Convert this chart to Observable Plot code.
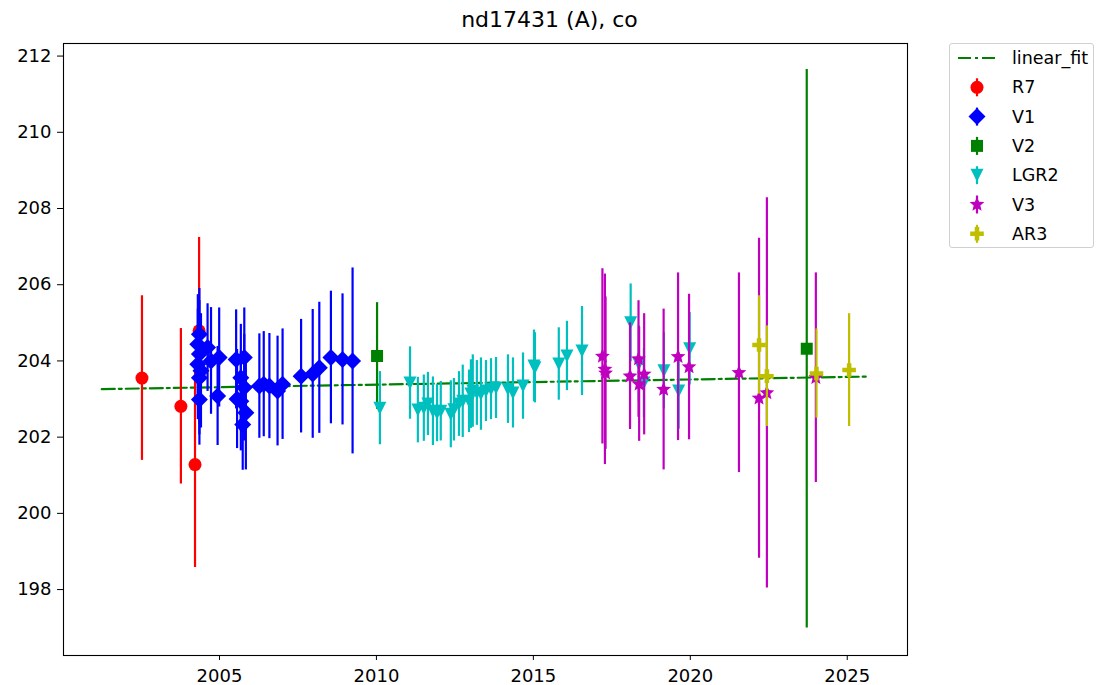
<!DOCTYPE html>
<html><head><meta charset="utf-8">
<script src="https://cdn.jsdelivr.net/npm/d3@7"></script>
<script src="https://cdn.jsdelivr.net/npm/@observablehq/plot@0.6"></script>
<style>
body{margin:0;background:#fff;font-family:"DejaVu Sans",sans-serif;}
#wrap{position:relative;width:1099px;height:685px;overflow:hidden;}
#title{position:absolute;left:0;width:1099px;top:7px;text-align:center;font-size:22px;color:#000;line-height:26px;}
#legend{position:absolute;left:949px;top:43px;width:145px;height:205px;border:1px solid #d0d0d0;border-radius:3px;background:#fff;box-sizing:border-box;}
</style></head><body>
<div id="wrap"><div id="chart"></div><div id="title">nd17431 (A), co</div><div id="legend"></div></div>
<script>
// ---- data (year, value, error) ----
const seriesNames = ["R7", "V1", "V2", "LGR2", "V3", "AR3"];
const R7 = [
  [2002.53, 203.55, 2.16], [2003.77, 202.81, 2.04], [2004.22, 201.28, 2.70], [2004.35, 204.79, 2.45]
];
const V1 = [
  [2004.36, 204.70, 1.2], [2004.31, 204.44, 1.3], [2004.36, 204.18, 1.4], [2004.31, 203.91, 1.45],
  [2004.41, 203.74, 1.5], [2004.36, 203.56, 1.5], [2004.36, 202.99, 1.2], [2004.62, 204.35, 1.15],
  [2004.73, 204.00, 1.4], [2004.99, 204.09, 1.3], [2004.94, 203.08, 1.3], [2005.53, 204.04, 1.3],
  [2005.56, 203.00, 1.3], [2005.79, 204.09, 1.3], [2005.68, 203.56, 1.4], [2005.79, 203.30, 1.4],
  [2005.68, 202.94, 1.3], [2005.84, 202.64, 1.5], [2005.74, 202.33, 1.2], [2006.27, 203.34, 1.37],
  [2006.41, 203.39, 1.38], [2006.59, 203.34, 1.38], [2006.85, 203.21, 1.44], [2007.01, 203.39, 1.45],
  [2007.60, 203.60, 1.49], [2007.97, 203.66, 1.69], [2008.18, 203.82, 1.72], [2008.55, 204.09, 1.74],
  [2008.92, 204.04, 1.72], [2009.24, 204.00, 2.44]
];
const V2 = [
  [2010.02, 204.13, 1.4], [2023.71, 204.32, 7.33]
];
const LGR2 = [
  [2010.11, 202.76, 0.96], [2011.07, 203.42, 0.95], [2011.32, 202.71, 0.86], [2011.51, 202.76, 0.87],
  [2011.64, 202.87, 0.83], [2011.80, 202.68, 0.90], [2011.93, 202.63, 0.75], [2012.05, 202.68, 0.78],
  [2012.37, 202.60, 0.88], [2012.47, 202.72, 0.82], [2012.63, 202.87, 0.85], [2012.75, 202.94, 0.95],
  [2012.95, 202.94, 0.82], [2013.01, 203.13, 0.90], [2013.07, 203.21, 0.95], [2013.20, 203.16, 0.85],
  [2013.33, 203.13, 0.95], [2013.49, 203.21, 0.80], [2013.65, 203.26, 0.80], [2013.81, 203.29, 0.80],
  [2014.19, 203.26, 0.90], [2014.35, 203.16, 0.92], [2014.67, 203.34, 0.87], [2015.02, 203.87, 0.94],
  [2015.05, 203.82, 0.92], [2015.81, 203.92, 0.95], [2016.07, 204.13, 0.91], [2016.55, 204.26, 1.17],
  [2018.10, 205.00, 1.02], [2018.36, 203.92, 1.00], [2018.52, 203.42, 0.90], [2019.16, 203.74, 1.00],
  [2019.63, 203.21, 1.00], [2019.98, 204.32, 0.95]
];
const V3 = [
  [2017.20, 204.12, 2.30], [2017.28, 203.78, 2.50], [2017.30, 203.68, 2.00], [2018.08, 203.60, 1.40],
  [2018.35, 204.05, 1.53], [2018.37, 203.39, 1.50], [2018.53, 203.65, 1.59], [2019.15, 203.25, 2.11],
  [2019.61, 204.11, 2.20], [2019.96, 203.84, 1.91], [2021.55, 203.69, 2.62], [2022.19, 203.02, 4.20],
  [2022.44, 203.16, 5.12], [2024.00, 203.56, 2.75]
];
const AR3 = [
  [2022.19, 204.42, 1.29], [2022.44, 203.60, 1.32], [2024.02, 203.67, 1.17], [2025.06, 203.76, 1.48]
];
const fitYears = [2001.25, 2025.70];
const fitValues = [203.26, 203.59];
const xTicks = [2005, 2010, 2015, 2020, 2025];
const yTicks = [198, 200, 202, 204, 206, 208, 210, 212];
const titleText = "nd17431 (A), co";
const fitName = "linear_fit";

// ---- symbols (matplotlib-like) ----
function sym(fn) { return {draw(c, size) { fn(c, Math.sqrt(size / Math.PI)); }}; }
const symCircle = sym((c, r) => { c.moveTo(r, 0); c.arc(0, 0, r, 0, 2 * Math.PI); });
const symDiamond = sym((c, r) => { c.moveTo(0, -r); c.lineTo(r, 0); c.lineTo(0, r); c.lineTo(-r, 0); c.closePath(); });
const symSquare = sym((c, r) => { c.moveTo(-r, -r); c.lineTo(r, -r); c.lineTo(r, r); c.lineTo(-r, r); c.closePath(); });
const symTriDown = sym((c, r) => { c.moveTo(-r, -r); c.lineTo(r, -r); c.lineTo(0, r); c.closePath(); });
const symStar = sym((c, r) => {
  const ri = r * 0.45;
  for (let i = 0; i < 10; i++) {
    const a = -Math.PI / 2 + i * Math.PI / 5, rr = i % 2 ? ri : r;
    const px = rr * Math.cos(a), py = rr * Math.sin(a);
    if (i) c.lineTo(px, py); else c.moveTo(px, py);
  }
  c.closePath();
});
const symPlus = sym((c, r) => {
  const a = r / 3;
  c.moveTo(-a, -r); c.lineTo(a, -r); c.lineTo(a, -a); c.lineTo(r, -a); c.lineTo(r, a); c.lineTo(a, a);
  c.lineTo(a, r); c.lineTo(-a, r); c.lineTo(-a, a); c.lineTo(-r, a); c.lineTo(-r, -a); c.lineTo(-a, -a); c.closePath();
});

const seriesData = [R7, V1, V2, LGR2, V3, AR3];
const seriesColors = ["#ff0000", "#0000ff", "#008000", "#00bfbf", "#bf00bf", "#bfbf00"];
const seriesSymbols = [symCircle, symDiamond, symSquare, symTriDown, symStar, symPlus];
const seriesR = [6.5, 8.5, 6, 6.5, 7.8, 6.8];
const fitColor = "#008000";
const fitDash = "13,4,3,4";

const marks = [];
marks.push(Plot.line(fitYears.map((x, i) => ({x, y: fitValues[i]})), {x: "x", y: "y", stroke: fitColor, strokeWidth: 2.2, strokeDasharray: fitDash}));
seriesData.forEach((rows, i) => {
  marks.push(Plot.ruleX(rows, {x: d => d[0], y1: d => d[1] - d[2], y2: d => d[1] + d[2], stroke: seriesColors[i], strokeWidth: 2.2}));
  marks.push(Plot.dot(rows, {x: d => d[0], y: d => d[1], fill: seriesColors[i], stroke: "none", symbol: seriesSymbols[i], r: seriesR[i]}));
});
marks.push(Plot.frame({stroke: "#000", strokeWidth: 1.1}));

const chart = Plot.plot({
  width: 1099, height: 685,
  marginLeft: 63, marginRight: 192, marginTop: 43, marginBottom: 30,
  style: {fontFamily: "DejaVu Sans, sans-serif", fontSize: "18px", color: "#000", background: "#fff", overflow: "visible"},
  x: {domain: [2000.03, 2026.92], ticks: xTicks, tickFormat: d3.format("d"), tickSize: 5, tickPadding: 9, label: null},
  y: {domain: [196.27, 212.33], ticks: yTicks, tickFormat: d3.format("d"), tickSize: 6, tickPadding: 6, label: null},
  marks
});
document.getElementById("chart").appendChild(chart);
document.getElementById("title").textContent = titleText;

// ---- legend ----
const lg = d3.select("#legend").append("svg").attr("width", 145).attr("height", 205)
  .style("font-family", "DejaVu Sans, sans-serif").style("font-size", "17.5px");
const rowY = i => 14 + 29.3 * i;
lg.append("line").attr("x1", 8).attr("x2", 46).attr("y1", rowY(0)).attr("y2", rowY(0))
  .attr("stroke", fitColor).attr("stroke-width", 2.2).attr("stroke-dasharray", fitDash);
lg.append("text").attr("x", 62).attr("y", rowY(0)).attr("dy", "0.35em").text(fitName);
seriesNames.forEach((name, i) => {
  const y = rowY(i + 1);
  lg.append("line").attr("x1", 27).attr("x2", 27).attr("y1", y - 9).attr("y2", y + 9)
    .attr("stroke", seriesColors[i]).attr("stroke-width", 2.2);
  lg.append("path").attr("transform", `translate(27,${y})`)
    .attr("d", d3.symbol().type(seriesSymbols[i]).size(seriesR[i] * seriesR[i] * Math.PI)())
    .attr("fill", seriesColors[i]);
  lg.append("text").attr("x", 62).attr("y", y).attr("dy", "0.35em").text(name);
});
</script></body></html>
